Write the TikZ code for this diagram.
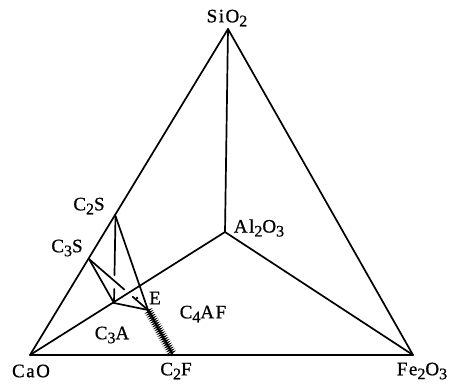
\documentclass[tikz,border=0pt]{standalone}
\usepackage{fontspec}
\setmainfont{Liberation Serif}
\newfontfamily\lblfont[LetterSpace=8,FakeBold=0.8]{Liberation Serif}
\usetikzlibrary{calc,decorations.pathmorphing}
\newcommand{\mysub}[1]{\raisebox{-0.45ex}{\fontsize{16}{16}\selectfont #1}}
\begin{document}
\begin{tikzpicture}[x=1pt,y=-1pt,
  edge/.style={line width=1.7pt, line cap=round, line join=round},
  lbl/.style={font=\lblfont\fontsize{19}{20}\selectfont, inner sep=0pt},
  hatch/.style={line width=1pt, decorate, decoration={zigzag, segment length=2.2pt, amplitude=2.6pt}}]
\useasboundingbox (0,0) rectangle (462,385);
% vertices
\coordinate (SiO) at (228,29);
\coordinate (CaO) at (30,355);
\coordinate (Fe) at (413,355);
\coordinate (Al) at (225,232);
\coordinate (C2S) at (115.5,216);
\coordinate (C3S) at (89,259);
\coordinate (J) at (114,303);
\coordinate (P) at (148,310);
\coordinate (C2F) at (173,355);
\coordinate (Edot) at (137,298);
% main tetrahedron
\draw[edge] (CaO) -- (SiO) -- (Fe) -- cycle;
\draw[edge] (SiO) -- (Al);
\draw[edge] (CaO) -- (Al) -- (Fe);
% inner lines
\draw[edge] (C2S) -- ($(C2S)!0.68!(J)$);
\draw[edge] ($(C2S)!0.84!(J)$) -- (J);
\draw[edge] (C2S) -- (P);
\draw[edge] (C3S) -- (J) -- (P);
\draw[edge] (C3S) -- ($(C3S)!0.6!(P)$);
\draw[edge] ($(C3S)!0.74!(P)$) -- (P);
\draw[line width=1.2pt] (P) -- (C2F);
\draw[hatch] (P) -- (C2F);
\fill (Edot) circle (1.4pt);
% labels
\node[lbl] (lSiO) at (227,18) {SiO\mysub{2}};
\node[lbl] (lAl) at (259,228) {Al\mysub{2}O\mysub{3}};
\node[lbl] (lFe) at (422,371) {Fe\mysub{2}O\mysub{3}};
\node[lbl] (lCaO) at (31,371) {CaO};
\node[lbl] (lC2F) at (176,371) {C\mysub{2}F};
\node[lbl] (lC2S) at (89,206) {C\mysub{2}S};
\node[lbl] (lC3S) at (67,248) {C\mysub{3}S};
\node[lbl] (lE) at (155,298) {E};
\node[lbl] (lC4AF) at (203,314) {C\mysub{4}AF};
\node[lbl] (lC3A) at (112,335) {C\mysub{3}A};
\end{tikzpicture}
\end{document}
